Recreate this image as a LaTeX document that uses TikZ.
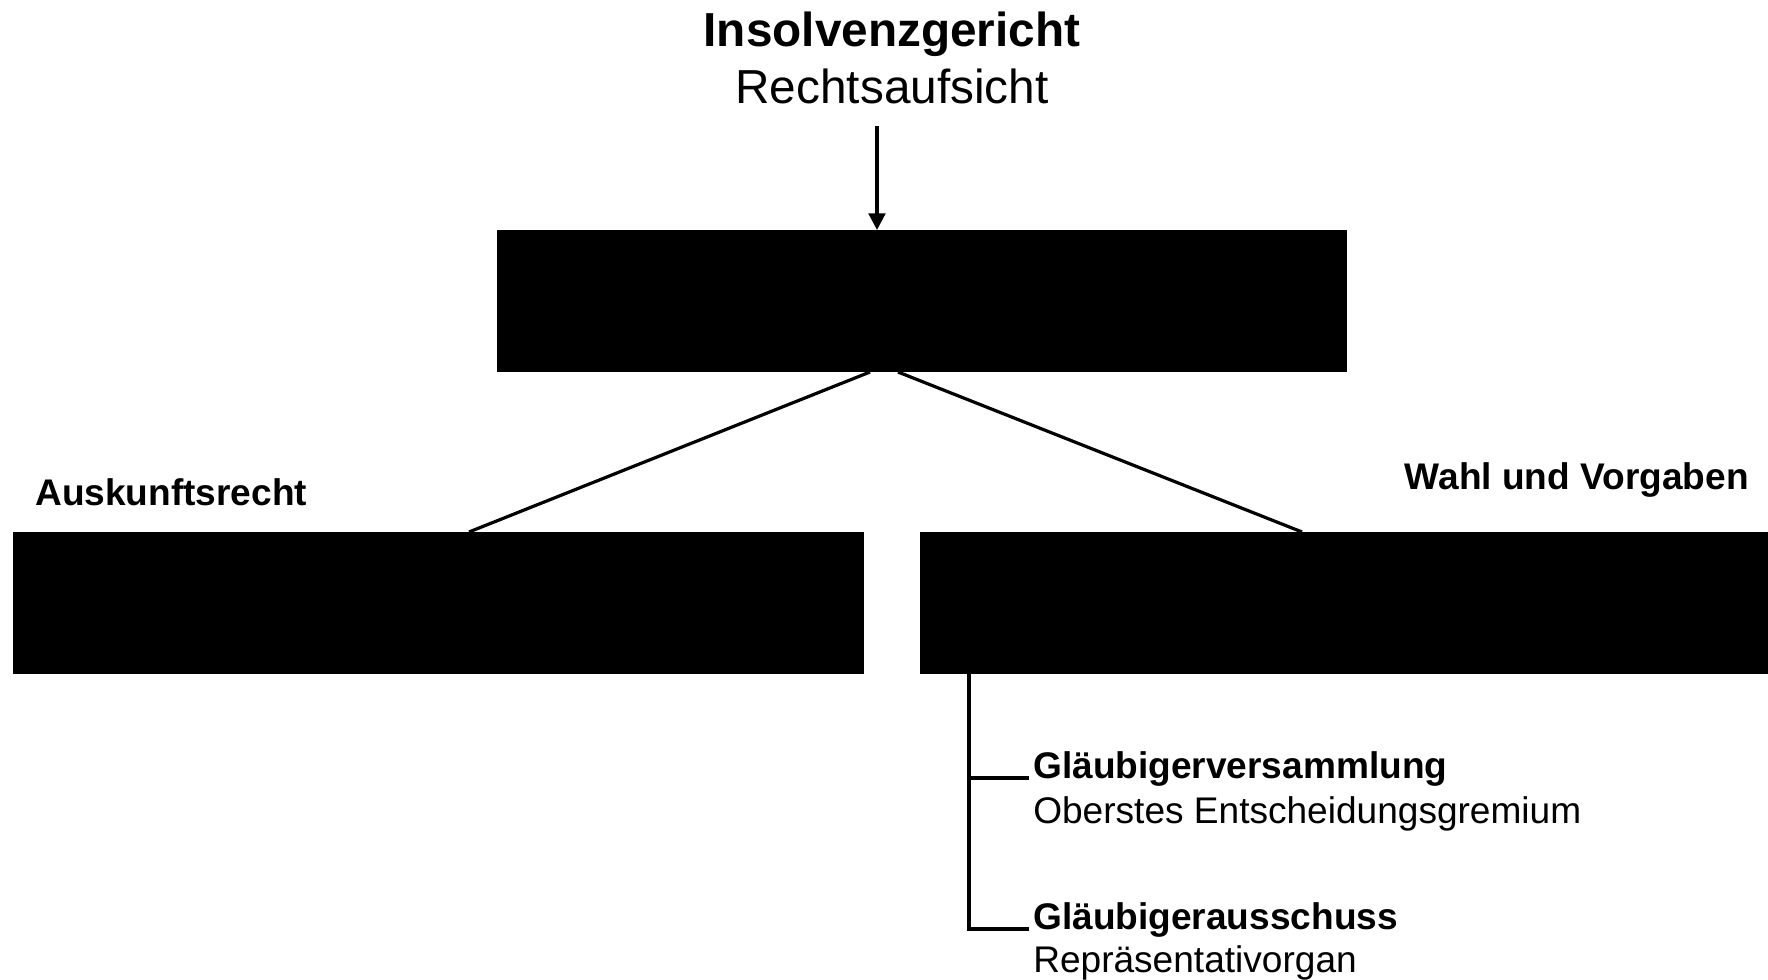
\documentclass[tikz,border=0pt]{standalone}
\usepackage{fontspec}
\setmainfont{Liberation Sans}
\usetikzlibrary{arrows.meta}

\tikzset{
  blackbox/.style={fill=black, draw=none, anchor=north west, inner sep=0pt,
    minimum width=#1, minimum height=106.5pt},
  bigtext/.style={font=\fontsize{35.8}{43}\selectfont, inner sep=0pt},
  smalltext/.style={font=\fontsize{27.8}{33}\selectfont, inner sep=0pt},
  link/.style={line width=2.4pt},
  tree/.style={line width=3.2pt},
}

\begin{document}
\begin{tikzpicture}[x=0.75pt,y=0.75pt,yscale=-1,xscale=1]
\useasboundingbox (0,0) rectangle (1768,980);

% boxes
\node[blackbox=637.5pt] (topbox) at (497,230) {};
\node[blackbox=638.3pt] (leftbox) at (13,532) {};
\node[blackbox=637.5pt] (rightbox) at (920,532) {};

% Text Node
\node[bigtext, anchor=base] (gericht) at (892,47) {\textbf{Insolvenzgericht}};
\node[bigtext, anchor=base] (aufsicht) at (892,104) {Rechtsaufsicht};
% Text Node
\node[smalltext, anchor=base west] (auskunft) at (35,506) {\textbf{Auskunftsrecht}};
\node[smalltext, anchor=base east] (wahl) at (1749,490) {\textbf{Wahl und Vorgaben}};
% Text Node
\node[smalltext, anchor=base west] (glv) at (1033,778) {\textbf{Gläubigerversammlung}};
\node[smalltext, anchor=base west] (glvsub) at (1033,823) {Oberstes Entscheidungsgremium};
\node[smalltext, anchor=base west] (gla) at (1033,929) {\textbf{Gläubigerausschuss}};
\node[smalltext, anchor=base west] (glasub) at (1033,972) {Repräsentativorgan};

% connectors
\coordinate (arrowstart) at (877,126);
\coordinate (topleft) at (870,372);
\coordinate (topright) at (898,372);
\coordinate (leftend) at (469,532);
\coordinate (rightend) at (1302,532);
\coordinate (treetop) at (969,674);

\draw[link, -{Triangle[length=12.5pt,width=12.5pt]}] (arrowstart) -- (arrowstart |- topbox.north);
\draw[link] (topleft) -- (leftend);
\draw[link] (topright) -- (rightend);
\draw[tree] (treetop) |- ([xshift=-3pt]glv.base west);
\draw[tree] (treetop) |- ([xshift=-3pt]gla.base west);

\end{tikzpicture}
\end{document}
